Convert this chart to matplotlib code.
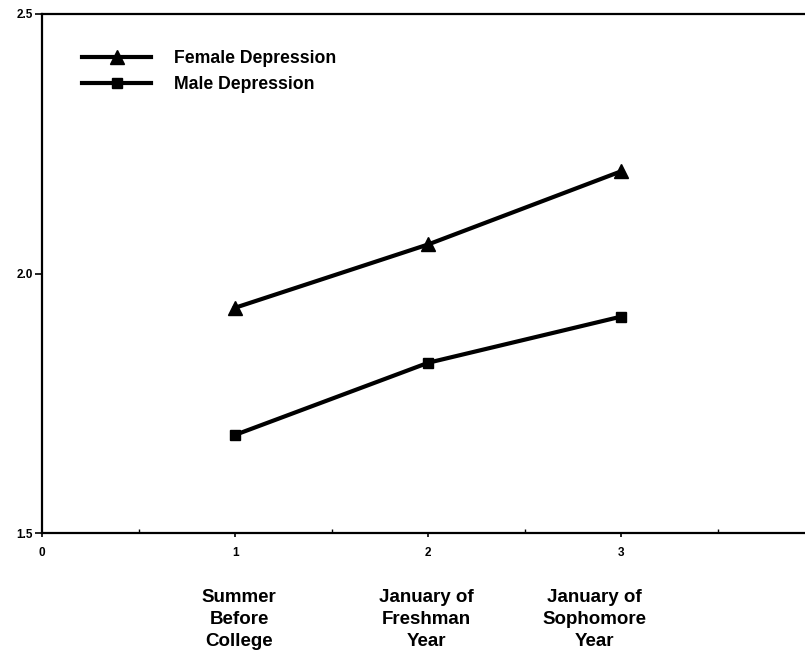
import matplotlib
matplotlib.use("Agg")
import matplotlib.pyplot as plt
from matplotlib.ticker import MultipleLocator
from matplotlib.transforms import blended_transform_factory

plt.rcParams['font.family'] = ['Liberation Sans', 'DejaVu Sans']

time_points = [1, 2, 3]
female_depression = [1.934, 2.056, 2.197]
male_depression = [1.689, 1.828, 1.917]
x_ticks = [0, 1, 2, 3]
y_ticks = [1.5, 2.0, 2.5]
y_tick_labels = ["1.5", "2.0", "2.5"]
category_labels = ["Summer\nBefore\nCollege", "January of\nFreshman\nYear", "January of\nSophomore\nYear"]
label_x = [1.02, 1.99, 2.86]

W, H = 805, 652
L, B, T = 42, 533, 14
fig = plt.figure(figsize=(W/100, H/100), dpi=100)
ax = fig.add_axes([L/W, 1-B/H, 1-L/W + 0.003, (B-T)/H])

ax.plot(time_points, female_depression, color='black', lw=3.0, marker='^', ms=10.5,
        label='Female Depression')
ax.plot(time_points, male_depression, color='black', lw=3.0, marker='s', ms=7.5,
        label='Male Depression')

ax.set_xlim(0, 3.964)
ax.set_ylim(1.5, 2.5)
ax.set_xticks(x_ticks)
ax.set_xticklabels([str(t) for t in x_ticks], fontsize=8.5, fontweight='bold')
ax.xaxis.set_minor_locator(MultipleLocator(0.5))
ax.set_yticks(y_ticks)
ax.set_yticklabels(y_tick_labels, fontsize=8.5, fontweight='bold')
ax.tick_params(axis='x', which='major', direction='out', length=3, width=1.2, pad=7)
ax.tick_params(axis='x', which='minor', direction='in', length=3, width=1)
ax.tick_params(axis='y', which='major', direction='out', length=5, width=1.2, pad=1.5)
for s in ['left', 'bottom', 'top']:
    ax.spines[s].set_linewidth(1.6)
ax.spines['right'].set_visible(False)

leg = ax.legend(loc='upper left', bbox_to_anchor=((82-L)/(W-L), (B-50)/(B-T)), frameon=False,
                handlelength=3.9, numpoints=1, prop={'weight': 'bold', 'size': 12.7},
                labelspacing=0.5, handletextpad=1.3, borderpad=0, borderaxespad=0)

trans = blended_transform_factory(ax.transData, fig.transFigure)
for xv, lab in zip(label_x, category_labels):
    ax.text(xv, 1 - 589/H, lab, transform=trans, ha='center', va='top',
            multialignment='center', fontsize=13.5, fontweight='bold', linespacing=1.4)

fig.savefig("out.png", dpi=100)
